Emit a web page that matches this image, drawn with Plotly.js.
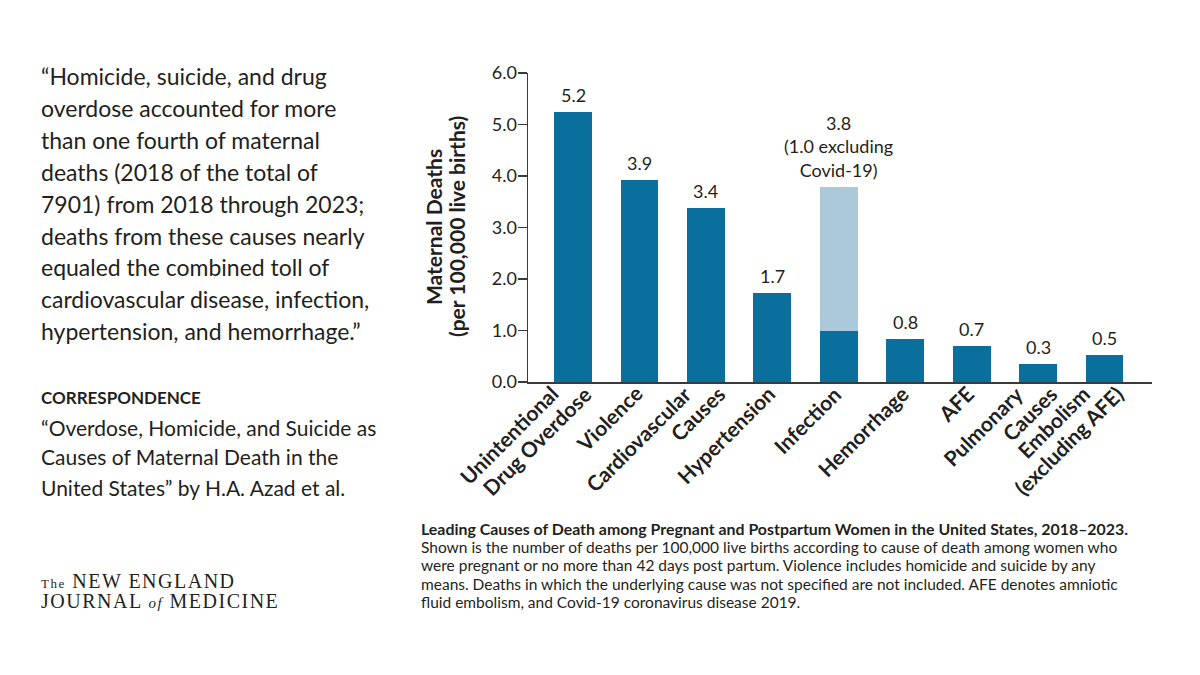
<!DOCTYPE html>
<html>
<head>
<meta charset="utf-8">
<script src="https://cdn.plot.ly/plotly-3.0.1.min.js"></script>
<style>
  html, body { margin: 0; padding: 0; background: #ffffff; }
  #chart { width: 1200px; height: 675px; }
</style>
</head>
<body>
<div id="chart"></div>
<script>
// ---------- DATA ----------
const causes = [
  "Unintentional<br>Drug Overdose",
  "Violence",
  "Cardiovascular<br>Causes",
  "Hypertension",
  "Infection",
  "Hemorrhage",
  "AFE",
  "Pulmonary<br>Causes",
  "Embolism<br>(excluding AFE)"
];
const ratesExcludingCovid = [5.25, 3.92, 3.37, 1.73, 1.00, 0.84, 0.70, 0.34, 0.53];
const covidRates = [0, 0, 0, 0, 2.79, 0, 0, 0, 0];
const valueLabels = ["5.2", "3.9", "3.4", "1.7", "3.8<br>(1.0 excluding<br>Covid-19)", "0.8", "0.7", "0.3", "0.5"];
const yTickValues = [0, 1, 2, 3, 4, 5, 6];
const yTickLabels = ["0.0", "1.0", "2.0", "3.0", "4.0", "5.0", "6.0"];

const yTitleLines = ["Maternal Deaths", "(per 100,000 live births)"];
const quoteLines = [
  "\u201cHomicide, suicide, and drug",
  "overdose accounted for more",
  "than one fourth of maternal",
  "deaths (2018 of the total of",
  "7901) from 2018 through 2023;",
  "deaths from these causes nearly",
  "equaled the combined toll of",
  "cardiovascular disease, infection,",
  "hypertension, and hemorrhage.\u201d"
];
const sectionLabel = "CORRESPONDENCE";
const citationLines = [
  "\u201cOverdose, Homicide, and Suicide as",
  "Causes of Maternal Death in the",
  "United States\u201d by H.A. Azad et al."
];
const captionTitle = "Leading Causes of Death among Pregnant and Postpartum Women in the United States, 2018\u20132023.";
const captionLines = [
  "Shown is the number of deaths per 100,000 live births according to cause of death among women who",
  "were pregnant or no more than 42 days post partum. Violence includes homicide and suicide by any",
  "means. Deaths in which the underlying cause was not specified are not included. AFE denotes amniotic",
  "fluid embolism, and Covid-19 coronavirus disease 2019."
];
const logoLines = [
  '<span style="font-size:13px">The</span> NEW ENGLAND',
  'JOURNAL <i><span style="font-size:15px">of</span></i> MEDICINE'
];

// ---------- STYLE / LAYOUT ----------
const W = 1200, H = 675;
const plotL = 528, plotR = 1152, plotT = 73, plotB = 382;
const fx = px => (px - plotL) / (plotR - plotL);
const fy = py => (plotB - py) / (plotB - plotT);
const ink = "#231f20";
const sans = "Lato, 'Open Sans', sans-serif";
const serif = "'Liberation Serif', 'DejaVu Serif', serif";
const darkBlue = "#0a6f9c";
const lightBlue = "#abc9da";
const axisColor = "#3a3a3a";

const annotations = [];

// category labels (rotated, one annotation per line so each line end sits under the axis)
const lineEndOffsets = {1: [5], 2: [-12, 21]};
causes.forEach((c, i) => {
  const lines = c.split("<br>");
  lines.forEach((ln, k) => {
    annotations.push({
      x: i, y: 0, xref: "x", yref: "paper",
      text: ln, textangle: -45, showarrow: false,
      xanchor: "right", yanchor: "top",
      xshift: lineEndOffsets[lines.length][k] + 5, yshift: 4,
      font: {family: sans, size: 21, color: ink, weight: "bold"}
    });
  });
});

// value labels above bars
causes.forEach((c, i) => {
  annotations.push({
    x: i, y: ratesExcludingCovid[i] + covidRates[i], xref: "x", yref: "y",
    text: valueLabels[i], showarrow: false, xanchor: "center", yanchor: "bottom",
    yshift: 4, font: {family: sans, size: 18, color: ink}
  });
});

// y-axis title (two lines, rotated)
const yTitleX = [433, 456];
yTitleLines.forEach((t, i) => {
  annotations.push({
    x: fx(yTitleX[i]), y: fy(227), xref: "paper", yref: "paper",
    text: t, textangle: -90, showarrow: false, xanchor: "center", yanchor: "middle",
    font: {family: sans, size: 21, color: ink, weight: "bold"}
  });
});

// left quote
quoteLines.forEach((t, i) => {
  annotations.push({
    x: fx(39), y: fy(76 + 31.9 * i), xref: "paper", yref: "paper",
    text: t, showarrow: false, xanchor: "left", yanchor: "middle",
    font: {family: sans, size: 23, color: ink}
  });
});

annotations.push({
  x: fx(39), y: fy(397), xref: "paper", yref: "paper",
  text: sectionLabel, showarrow: false, xanchor: "left", yanchor: "middle",
  font: {family: sans, size: 17, color: ink, weight: "bold"}
});

citationLines.forEach((t, i) => {
  annotations.push({
    x: fx(39), y: fy(427 + 30 * i), xref: "paper", yref: "paper",
    text: t, showarrow: false, xanchor: "left", yanchor: "middle",
    font: {family: sans, size: 21, color: ink}
  });
});

// caption
annotations.push({
  x: fx(419), y: fy(528), xref: "paper", yref: "paper",
  text: captionTitle, showarrow: false, xanchor: "left", yanchor: "middle",
  font: {family: sans, size: 15.9, color: ink, weight: "bold"}
});
captionLines.forEach((t, i) => {
  annotations.push({
    x: fx(419), y: fy(547 + 18.3 * i), xref: "paper", yref: "paper",
    text: t, showarrow: false, xanchor: "left", yanchor: "middle",
    font: {family: sans, size: 15.5, color: ink}
  });
});

// logo
logoLines.forEach((t, i) => {
  annotations.push({
    x: fx(39), y: fy(581 + 20 * i), xref: "paper", yref: "paper",
    text: '<span style="letter-spacing:1.5px">' + t + '</span>', showarrow: false, xanchor: "left", yanchor: "middle",
    font: {family: serif, size: 20, color: ink}
  });
});

const traces = [
  {
    type: "bar", x: causes.map((c, i) => i), y: ratesExcludingCovid,
    marker: {color: darkBlue, line: {width: 0}}, hoverinfo: "skip", name: "Excluding Covid-19"
  },
  {
    type: "bar", x: causes.map((c, i) => i), y: covidRates,
    marker: {color: lightBlue, line: {width: 0}}, hoverinfo: "skip", name: "Covid-19"
  }
];

const layout = {
  width: W, height: H,
  margin: {l: plotL, r: W - plotR, t: plotT, b: H - plotB, pad: 0},
  paper_bgcolor: "#ffffff", plot_bgcolor: "#ffffff",
  barmode: "stack", bargap: 0.43,
  showlegend: false,
  font: {family: sans, color: ink},
  xaxis: {
    type: "linear",
    range: [-0.678, 8.715],
    showticklabels: false,
    ticks: "",
    showline: true, linecolor: axisColor, linewidth: 1.5,
    showgrid: false, zeroline: false,
    fixedrange: true
  },
  yaxis: {
    range: [0, 6],
    tickmode: "array",
    tickvals: yTickValues,
    ticktext: yTickLabels,
    ticks: "outside", ticklen: 9, tickwidth: 1.5, tickcolor: axisColor,
    ticklabelstandoff: -3,
    showline: true, linecolor: axisColor, linewidth: 1.5,
    showgrid: false, zeroline: false,
    tickfont: {family: sans, size: 18, color: ink},
    fixedrange: true
  },
  annotations: annotations
};

Plotly.newPlot("chart", traces, layout, {displayModeBar: false, staticPlot: true});
</script>
</body>
</html>
